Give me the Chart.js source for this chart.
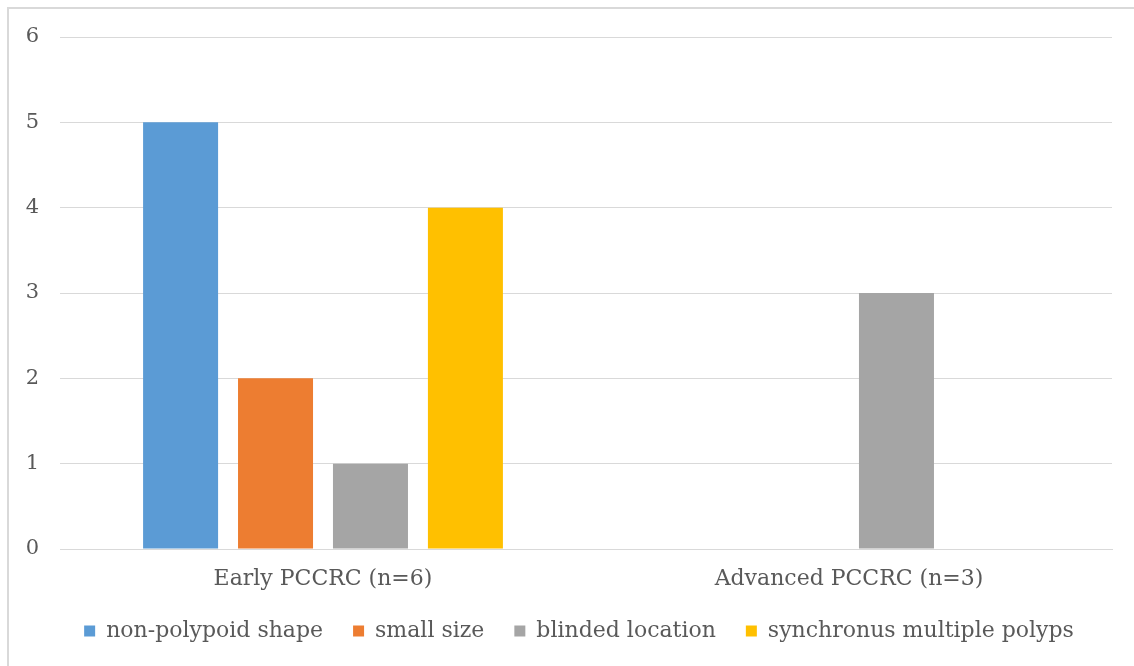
<!DOCTYPE html>
<html>
<head>
<meta charset="utf-8">
<script src="https://cdn.jsdelivr.net/npm/chart.js@4"></script>
<style>
  html, body { margin: 0; padding: 0; background: #fff; }
  #frame { position: absolute; left: 7px; top: 7px; width: 1140px; height: 680px; border: 2px solid #d9d9d9; }
  #wrap { position: absolute; left: 0; top: 0; width: 1134px; height: 666px; }
</style>
</head>
<body>
<div id="frame"></div>
<div id="wrap"><canvas id="myChart"></canvas></div>
<script>
var categories = ['Early PCCRC (n=6)', 'Advanced PCCRC (n=3)'];
var seriesNames = ['non-polypoid shape', 'small size', 'blinded location', 'synchronus multiple polyps'];
var nonPolypoid = [5, 0];
var smallSize = [2, 0];
var blindedLocation = [1, 3];
var synchronus = [4, 0];
var yTicks = [0, 1, 2, 3, 4, 5, 6];

document.addEventListener("DOMContentLoaded", function () {
    var ctx = document.getElementById('myChart').getContext('2d');
    var font = { family: '"DejaVu Serif", "Liberation Serif", serif', size: 22 };
    var colors = ['#5B9BD5', '#ED7D31', '#A5A5A5', '#FFC000'];
    var values = [nonPolypoid, smallSize, blindedLocation, synchronus];

    var datasets = seriesNames.map(function (name, i) {
        return {
            label: name,
            data: values[i],
            backgroundColor: colors[i],
            borderWidth: 0,
            categoryPercentage: 0.722,
            barPercentage: 0.79
        };
    });

    // legend in the original sits a bit right of the canvas centre
    var legendShift = {
        id: 'legendShift',
        afterLayout: function (chart) {
            var legend = chart.legend;
            if (!legend || legend._shifted) return;
            var orig = legend.draw;
            legend.draw = function () {
                chart.ctx.save();
                chart.ctx.translate(23, 0);
                orig.apply(this, arguments);
                chart.ctx.restore();
            };
            legend._shifted = true;
        }
    };

    new Chart(ctx, {
        type: 'bar',
        data: { labels: categories, datasets: datasets },
        plugins: [legendShift],
        options: {
            responsive: true,
            maintainAspectRatio: false,
            animation: false,
            layout: { padding: { left: 0, right: 22, top: 37, bottom: 14 } },
            plugins: {
                tooltip: { enabled: false },
                legend: {
                    position: 'bottom',
                    labels: {
                        font: font,
                        color: '#595959',
                        boxWidth: 11,
                        boxHeight: 11,
                        padding: 30
                    }
                }
            },
            scales: {
                x: {
                    grid: { display: false, drawTicks: false },
                    border: { color: '#d9d9d9', width: 1 },
                    ticks: { font: font, color: '#595959', padding: 17 },
                    afterFit: function (scale) { scale.height = 41; }
                },
                y: {
                    min: 0,
                    max: 6,
                    afterBuildTicks: function (scale) {
                        scale.ticks = yTicks.map(function (v) { return { value: v }; });
                    },
                    grid: { color: '#d9d9d9', drawTicks: false },
                    border: { display: false },
                    ticks: { font: { family: font.family, size: 21 }, color: '#595959', padding: 21 },
                    afterFit: function (scale) { scale.width = 60; }
                }
            }
        }
    });
});
</script>
</body>
</html>
